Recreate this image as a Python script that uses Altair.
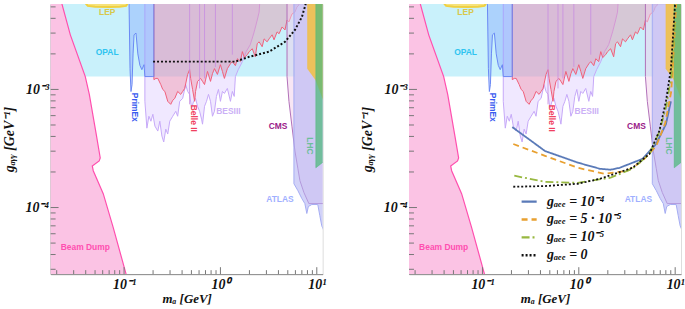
import altair as alt
import pandas as pd

M_MIN, M_MAX = 0.0173, 11.5
G_MIN, G_MAX = 2.73e-5, 5.28e-3
TOP = 6.5e-3
W, H = 274, 272

# ---------------- exclusion regions (m_a [GeV], g [GeV^-1]) ----------------
opal_m = [M_MIN, 5.93]
opal_g = [1.285e-3, TOP]

lep_m = [0.0396, 0.042, 0.05, 0.07, 0.09, 0.105, 0.110]
lep_g = [5.4e-3, 5.1e-3, 5.02e-3, 5.0e-3, 5.02e-3, 5.1e-3, 5.4e-3]

beam_m = [0.110, 0.105, 0.0771, 0.0608, 0.0479, 0.0468, 0.0552, 0.0566, 0.0514, 0.0436, 0.0396, 0.0277, 0.0224, 0.0210]
beam_g = [2.4e-5, 2.73e-5, 6.79e-5, 1.31e-4, 2.05e-4, 2.25e-4, 2.48e-4, 2.63e-4, 4.19e-4, 9.08e-4, 1.285e-3, 2.9e-3, 5.48e-3, 6.5e-3]

primex_m = [0.1127, 0.1153, 0.118, 0.121, 0.124, 0.127, 0.133, 0.139, 0.146, 0.153, 0.161, 0.1645, 0.199, 0.204]
primex_g = [5.2e-3, 1.5e-3, 9.6e-4, 1.1e-3, 2.0e-3, 2.9e-3, 3.0e-3, 2.0e-3, 1.6e-3, 1.47e-3, 1.62e-3, 1.285e-3, 1.285e-3, 1.285e-3]

besiii_m = [0.1645, 0.1726, 0.181, 0.190, 0.199, 0.209, 0.224, 0.235, 0.247, 0.258, 0.271, 0.284, 0.298,
            0.320, 0.344, 0.360, 0.378, 0.406, 0.436, 0.457, 0.479, 0.502, 0.527, 0.552, 0.579, 0.608,
            0.637, 0.652, 0.684, 0.717, 0.752, 0.789, 0.827, 0.867, 0.909, 0.954, 1.0, 1.049, 1.10, 1.18,
            1.27, 1.33, 1.39, 1.43, 1.53, 1.69, 1.85, 2.04, 2.24, 2.41, 2.52, 2.58]
besiii_g = [7.93e-4, 4.70e-4, 5.93e-4, 5.38e-4, 6.16e-4, 4.89e-4, 4.44e-4, 5.38e-4, 4.03e-4, 3.59e-4, 4.61e-4,
            4.19e-4, 5.38e-4, 5.93e-4, 6.53e-4, 5.93e-4, 7.93e-4, 8.40e-4, 1.10e-3, 9.62e-4, 9.08e-4, 6.92e-4,
            7.93e-4, 8.40e-4, 7.2e-4, 6.53e-4, 5.6e-4, 5.08e-4, 7.2e-4, 7.93e-4, 9.08e-4, 7.93e-4, 5.93e-4,
            6.53e-4, 8.73e-4, 1.0e-3, 7.93e-4, 9.62e-4, 9.25e-4, 1.02e-3, 7.93e-4, 9.62e-4, 8.73e-4, 1.285e-3,
            1.47e-3, 1.72e-3, 2.09e-3, 2.39e-3, 3.07e-3, 3.87e-3, 4.52e-3, 6.0e-3]

besiii_lines_m = [0.479, 0.608, 0.684, 0.888, 1.33]
besiii_lines_g = [7.48e-4, 1.02e-3, 1.24e-3, 1.55e-3, 1.97e-3]

belle_m = [0.204, 0.214, 0.224, 0.2405, 0.252, 0.265, 0.284, 0.305, 0.320, 0.336, 0.360, 0.387, 0.406, 0.426,
           0.457, 0.479, 0.491, 0.514, 0.540, 0.552, 0.579, 0.622, 0.652, 0.684, 0.734, 0.789, 0.827, 0.867,
           0.931, 1.0, 1.049, 1.10, 1.18, 1.27, 1.33, 1.43, 1.50, 1.61, 1.69, 1.77, 1.90, 1.99, 2.14, 2.30,
           2.41, 2.52, 2.71, 2.84, 3.05, 3.20, 3.44, 3.60, 3.87, 4.06, 4.36, 4.68, 4.91, 5.14, 5.52, 5.93,
           6.22, 6.52, 6.68]
belle_g = [1.21e-3, 1.24e-3, 1.24e-3, 1.10e-3, 1.0e-3, 9.62e-4, 7.93e-4, 7.48e-4, 8.09e-4, 8.40e-4, 9.62e-4,
           9.08e-4, 9.62e-4, 1.02e-3, 1.34e-3, 1.47e-3, 1.24e-3, 1.0e-3, 7.93e-4, 9.62e-4, 1.17e-3, 1.24e-3,
           1.17e-3, 1.10e-3, 1.42e-3, 1.17e-3, 1.36e-3, 1.50e-3, 1.34e-3, 1.62e-3, 1.42e-3, 1.24e-3, 1.50e-3,
           1.65e-3, 1.72e-3, 1.59e-3, 1.82e-3, 1.72e-3, 2.09e-3, 1.86e-3, 1.97e-3, 2.09e-3, 2.21e-3, 1.89e-3,
           2.44e-3, 2.53e-3, 2.30e-3, 2.68e-3, 2.53e-3, 2.68e-3, 2.90e-3, 2.63e-3, 3.07e-3, 2.96e-3, 3.38e-3,
           3.19e-3, 3.87e-3, 3.73e-3, 4.35e-3, 4.52e-3, 4.98e-3, 5.18e-3, 6.0e-3]

cms_m = [8.27, 7.35, 6.68, 6.37, 5.93, 5.52, 5.14, 4.91, 4.91]
cms_g = [1.08e-4, 1.34e-4, 1.69e-4, 2.13e-4, 3.01e-4, 4.89e-4, 7.93e-4, 1.285e-3, 6.5e-3]

atlas_m = [5.79, 6.37, 7.0, 7.52, 7.88, 8.17, 8.88, 10.24, 10.74, 11.26, 11.8]
atlas_g = [1.59e-4, 1.39e-4, 1.19e-4, 1.08e-4, 8.91e-5, 1.02e-4, 1.06e-4, 1.06e-4, 8.57e-5, 7.0e-5, 6.4e-5]

lhc_or_m = [8.02, 9.77, 11.8]
lhc_or_g = [1.5e-3, 1.2e-3, 8.0e-4]

lhc_gr_m = [9.77, 11.8]
lhc_gr_g = [2.17e-4, 2.45e-4]

# ---------------- curves ----------------
dotted_m = [0.2, 0.652, 1.43, 1.99, 3.2, 4.68, 5.93, 7.0, 7.52, 7.8]
dotted_g = [1.72e-3, 1.72e-3, 1.72e-3, 1.89e-3, 2.09e-3, 2.53e-3, 3.19e-3, 4.1e-3, 5.0e-3, 5.6e-3]

series = ["gₐₑₑ = 10⁻⁴", "gₐₑₑ = 5 · 10⁻⁵", "gₐₑₑ = 10⁻⁵", "gₐₑₑ = 0"]
c1_m = [0.204, 0.446, 0.977, 1.65, 2.14, 2.65, 4.57, 6.33, 8.02, 9.03]
c1_g = [4.8e-4, 3.01e-4, 2.40e-4, 2.13e-4, 2.09e-4, 2.17e-4, 2.58e-4, 3.45e-4, 5.08e-4, 7.93e-4]
c2_m = [0.209, 0.446, 0.977, 1.85, 3.2, 4.57, 6.37, 7.88, 9.10, 9.77, 10.24]
c2_g = [3.45e-4, 2.74e-4, 2.17e-4, 1.93e-4, 2.05e-4, 2.48e-4, 3.32e-4, 5.18e-4, 9.6e-4, 2.53e-3, 5.5e-3]
c3_m = [0.214, 0.446, 0.977, 2.14, 3.6, 5.40, 6.84, 8.08, 9.10, 10.0]
c3_g = [1.86e-4, 1.65e-4, 1.62e-4, 1.79e-4, 2.13e-4, 2.84e-4, 4.35e-4, 7.2e-4, 1.285e-3, 3.73e-3]
c4_m = [0.209, 0.446, 0.977, 1.65, 3.6, 5.40, 6.84, 8.02, 9.03, 10.0]
c4_g = [1.50e-4, 1.52e-4, 1.59e-4, 1.75e-4, 2.17e-4, 2.84e-4, 4.44e-4, 7.93e-4, 1.5e-3, 5.5e-3]
series_colors = ["#5a7ab8", "#e8a030", "#98b840", "#111111"]
series_dash = [[1, 0], [6, 4], [8, 3, 2, 3], [2, 2]]

# ---------------- labels ----------------
lab_h_text = ["LEP", "OPAL", "BESIII", "CMS", "ATLAS", "Beam Dump"]
lab_h_m = [0.0668, 0.0668, 1.21, 3.96, 4.15, 0.0396]
lab_h_g = [4.52e-3, 2.09e-3, 6.53e-4, 4.89e-4, 1.19e-4, 4.62e-5]
lab_h_col = ["#d8c84a", "#2ec4f0", "#cbb0f6", "#9a2088", "#9fb0ff", "#ff4fb0"]
lab_v_text = ["PrimEx", "Belle II", "LHC"]
lab_v_m = [0.130, 0.527, 8.57]
lab_v_g = [7.06e-4, 5.7e-4, 3.32e-4]
lab_v_col = ["#3a5bf0", "#f04060", "#6cbf9a"]

# axis tick positions
x_major = [0.1, 1, 10]
x_minor = [k * 10.0 ** e for e in range(-2, 2) for k in range(2, 10) if M_MIN <= k * 10.0 ** e <= M_MAX]
y_major = [1e-4, 1e-3]
y_minor = [k * 10.0 ** e for e in range(-5, -2) for k in range(2, 10) if G_MIN <= k * 10.0 ** e <= G_MAX]

xs = alt.Scale(type="log", domain=[M_MIN, M_MAX], nice=False)
ys = alt.Scale(type="log", domain=[G_MIN, G_MAX], nice=False)
SERIF = "Liberation Serif"
SANS = "Liberation Sans"

XAXIS = alt.Axis(values=x_major, ticks=False, grid=False, domainColor="#8a8a8a",
                 labelExpr="datum.value < 0.5 ? '10⁻¹' : (datum.value < 5 ? '10⁰' : '10¹')",
                 labelFont=SERIF, labelFontSize=14, labelFontStyle="italic", labelFontWeight="bold",
                 labelColor="#111", labelPadding=3, title="mₐ [GeV]", titleFont=SERIF,
                 titleFontSize=13, titleFontStyle="italic", titleFontWeight="bold", titlePadding=2,
                 titleColor="#111")
YAXIS = alt.Axis(values=y_major, ticks=False, grid=False, domainColor="#8a8a8a",
                 labelExpr="datum.value < 5e-4 ? '10⁻⁴' : '10⁻³'",
                 labelFont=SERIF, labelFontSize=14, labelFontStyle="italic", labelFontWeight="bold",
                 labelColor="#111", labelPadding=2, title="gₐᵧᵧ [GeV⁻¹]", titleFont=SERIF,
                 titleFontSize=14, titleFontStyle="italic", titleFontWeight="bold", titlePadding=9,
                 titleColor="#111")


def X(f):
    return alt.X(f, type="quantitative", scale=xs, axis=XAXIS)


def Y(f):
    return alt.Y(f, type="quantitative", scale=ys, axis=YAXIS)


def varea(m, g, fill, op, stroke, sw=1.0):
    df = pd.DataFrame({"m": m, "g": g, "top": [TOP] * len(m)})
    return alt.Chart(df).mark_area(fill=fill, fillOpacity=op, stroke=stroke, strokeWidth=sw,
                                   clip=True).encode(x=X("m"), y=Y("g"), y2="top")


def harea(m, g, base, fill, op, stroke, sw=1.0):
    df = pd.DataFrame({"m": m, "g": g, "b": [base] * len(m)})
    return alt.Chart(df).mark_area(orient="horizontal", fill=fill, fillOpacity=op, stroke=stroke,
                                   strokeWidth=sw, clip=True).encode(y=Y("g"), x=X("m"), x2="b")


def panel(right):
    opal_df = pd.DataFrame({"m": [opal_m[0]], "m2": [opal_m[1]], "g": [opal_g[0]], "g2": [opal_g[1]]})
    opal = alt.Chart(opal_df).mark_rect(color="#c9f1fb", clip=True).encode(
        x=X("m"), x2="m2", y=Y("g"), y2="g2")

    layers = [
        opal,
        varea(lep_m, lep_g, "#f6e27c", 1.0, "#f0d040", 2),
        harea(beam_m, beam_g, 0.012, "#fbc3e4", 1.0, "#ff4fae", 1.2),
        varea(besiii_m, besiii_g, "#d6c0ff", 0.36, "#c6a8f8", 1),
        varea(belle_m, belle_g, "#f07890", 0.34, "#f0607a", 1),
        varea(primex_m, primex_g, "#7fa0ff", 0.38, "#6a88f4", 1),
        alt.Chart(pd.DataFrame({"m": besiii_lines_m, "g": besiii_lines_g, "top": [TOP] * 5})).mark_rule(
            color="#c890e0", strokeWidth=1, opacity=0.85, clip=True).encode(x=X("m"), y=Y("g"), y2="top"),
        harea(cms_m, cms_g, 13.0, "#f1cdea", 0.5, "#b070b8", 1),
        varea(atlas_m, atlas_g, "#b4b4f4", 0.6, "#a4acf2", 1),
        varea(lhc_or_m, lhc_or_g, "#f2bf40", 0.85, "#f2bf40", 0.5),
        varea(lhc_gr_m, lhc_gr_g, "#4cb87a", 0.72, "#4cb87a", 0.5),
    ]
    hdf = pd.DataFrame({"t": lab_h_text, "m": lab_h_m, "g": lab_h_g, "c": lab_h_col})
    vdf = pd.DataFrame({"t": lab_v_text, "m": lab_v_m, "g": lab_v_g, "c": lab_v_col})
    layers.append(alt.Chart(hdf).mark_text(font=SANS, fontWeight="bold", fontSize=8.5).encode(
        x=X("m"), y=Y("g"), text="t:N", color=alt.Color("c:N", scale=None)))
    layers.append(alt.Chart(vdf).mark_text(font=SANS, fontWeight="bold", fontSize=8.5, angle=90).encode(
        x=X("m"), y=Y("g"), text="t:N", color=alt.Color("c:N", scale=None)))

    if not right:
        layers.append(alt.Chart(pd.DataFrame({"m": dotted_m, "g": dotted_g})).mark_line(
            color="#111", strokeWidth=2, strokeDash=[2, 2], clip=True).encode(x=X("m"), y=Y("g")))
    else:
        rows = []
        for s, mm, gg in zip(series, [c1_m, c2_m, c3_m, c4_m], [c1_g, c2_g, c3_g, c4_g]):
            rows += [{"s": s, "m": a, "g": b} for a, b in zip(mm, gg)]
        leg = alt.Legend(title=None, orient="none", legendX=112, legendY=190, symbolType="stroke",
                         symbolSize=230, symbolStrokeWidth=2.4, labelFont=SERIF, labelFontSize=14,
                         labelFontStyle="italic", labelFontWeight="bold", labelColor="#111",
                         rowPadding=2, labelOffset=9)
        layers.append(alt.Chart(pd.DataFrame(rows)).mark_line(strokeWidth=1.8, clip=True).encode(
            x=X("m"), y=Y("g"),
            color=alt.Color("s:N", scale=alt.Scale(domain=series, range=series_colors), legend=leg),
            strokeDash=alt.StrokeDash("s:N", scale=alt.Scale(domain=series, range=series_dash), legend=leg),
            detail="s:N"))

    # inward axis ticks
    layers.append(alt.Chart(pd.DataFrame({"m": x_major})).mark_rule(color="#777").encode(
        x=X("m"), y=alt.value(H), y2=alt.value(H - 7)))
    layers.append(alt.Chart(pd.DataFrame({"m": x_minor})).mark_rule(color="#777").encode(
        x=X("m"), y=alt.value(H), y2=alt.value(H - 4)))
    layers.append(alt.Chart(pd.DataFrame({"g": y_major})).mark_rule(color="#777").encode(
        y=Y("g"), x=alt.value(0), x2=alt.value(8)))
    layers.append(alt.Chart(pd.DataFrame({"g": y_minor})).mark_rule(color="#777").encode(
        y=Y("g"), x=alt.value(0), x2=alt.value(5)))

    return alt.layer(*layers).properties(width=W, height=H)


chart = alt.hconcat(panel(False), panel(True), spacing=87, bounds="flush").resolve_scale(
    color="independent", strokeDash="independent").resolve_legend(
    color="independent", strokeDash="independent").properties(
    padding={"left": 1, "top": 2, "right": 0, "bottom": 0}).configure_view(stroke=None).configure(
    background="white")

chart.save("out.html", embed_options={"renderer": "svg", "actions": False})
